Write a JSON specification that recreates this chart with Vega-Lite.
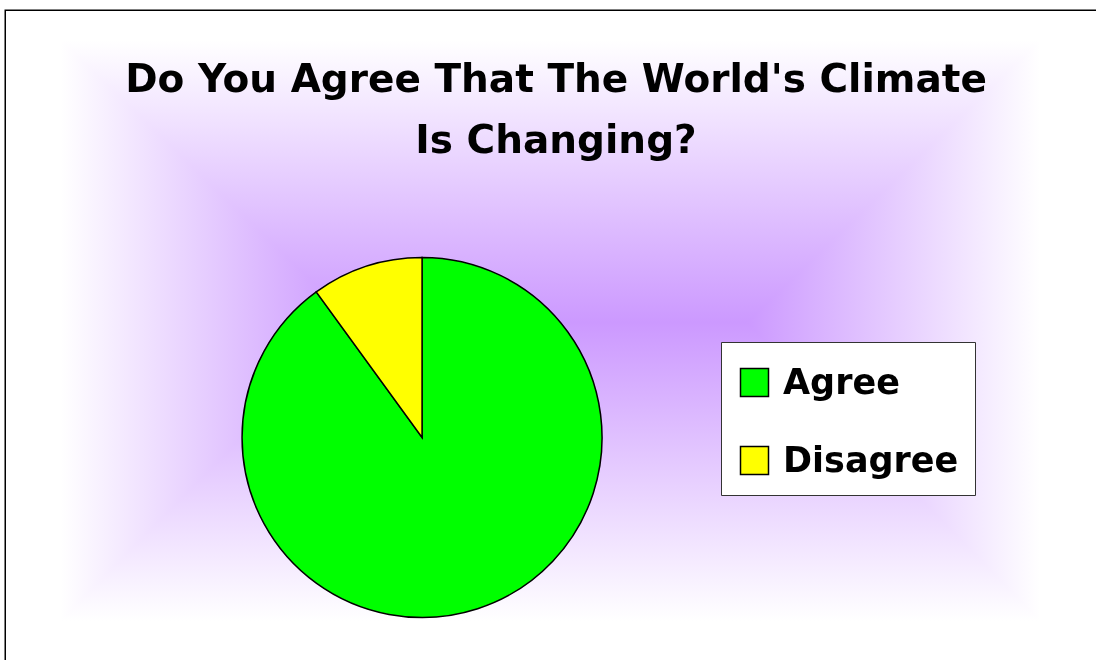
{
  "$schema": "https://vega.github.io/schema/vega-lite/v6.json",
  "autosize": "none",
  "width": 1090,
  "height": 649,
  "padding": {"left": 6, "top": 11, "right": 0, "bottom": 0},
  "background": "white",
  "title": {
    "text": ["Do You Agree That The World's Climate", "Is Changing?"],
    "font": "Comic Sans MS, DejaVu Sans",
    "fontSize": 39,
    "fontWeight": "bold",
    "color": "black",
    "anchor": "middle",
    "frame": "group",
    "lineHeight": 61,
    "offset": -150,
    "dx": 5
  },
  "layer": [
    {
      "data": {"values": [{"layer": "horizontal"}]},
      "mark": {
        "type": "rect",
        "color": {
          "gradient": "linear", "x1": 0, "y1": 0, "x2": 1, "y2": 0,
          "stops": [
            {"offset": 0, "color": "#ffffff"},
            {"offset": 0.05, "color": "#ffffff"},
            {"offset": 0.32, "color": "#cc99ff"},
            {"offset": 0.68, "color": "#cc99ff"},
            {"offset": 0.949, "color": "#ffffff"},
            {"offset": 1, "color": "#ffffff"}
          ]
        }
      },
      "encoding": {}
    },
    {
      "data": {"values": [{"layer": "vertical"}]},
      "mark": {
        "type": "rect",
        "blend": "lighten",
        "color": {
          "gradient": "linear", "x1": 0, "y1": 0, "x2": 0, "y2": 1,
          "stops": [
            {"offset": 0, "color": "#ffffff"},
            {"offset": 0.045, "color": "#ffffff"},
            {"offset": 0.48, "color": "#cc99ff"},
            {"offset": 0.94, "color": "#ffffff"},
            {"offset": 1, "color": "#ffffff"}
          ]
        }
      },
      "encoding": {}
    },
    {
      "data": {"values": [
        {"answer": "Agree", "percent": 90},
        {"answer": "Disagree", "percent": 10}
      ]},
      "mark": {"type": "arc", "radius": 180, "stroke": "black", "strokeWidth": 1.5},
      "encoding": {
        "theta": {"field": "percent", "type": "quantitative", "stack": true},
        "color": {
          "field": "answer",
          "type": "nominal",
          "scale": {"domain": ["Agree", "Disagree"], "range": ["#00ff00", "#ffff00"]},
          "legend": {
            "title": " ",
            "titleFontSize": 2,
            "titlePadding": 5,
            "orient": "none",
            "legendX": 715,
            "legendY": 331,
            "fillColor": "white",
            "strokeColor": "#333333",
            "padding": 16,
            "symbolType": "square",
            "symbolSize": 784,
            "symbolStrokeColor": "black",
            "symbolStrokeWidth": 1.5,
            "symbolOpacity": 1,
            "labelFont": "Comic Sans MS, DejaVu Sans",
            "labelFontSize": 35,
            "labelFontWeight": "bold",
            "labelColor": "black",
            "labelOffset": 11,
            "rowPadding": 42,
            "labelLimit": 400
          }
        },
        "x": {"datum": 0.3817, "type": "quantitative", "scale": {"domain": [0, 1]}, "axis": null},
        "y": {"datum": 0.3428, "type": "quantitative", "scale": {"domain": [0, 1]}, "axis": null}
      }
    }
  ],
  "resolve": {"scale": {"x": "independent", "y": "independent"}},
  "config": {
    "view": {
      "fill": "white",
      "stroke": "black",
      "strokeWidth": 3,
      "strokeDash": [1090, 1739, 649]
    }
  }
}
